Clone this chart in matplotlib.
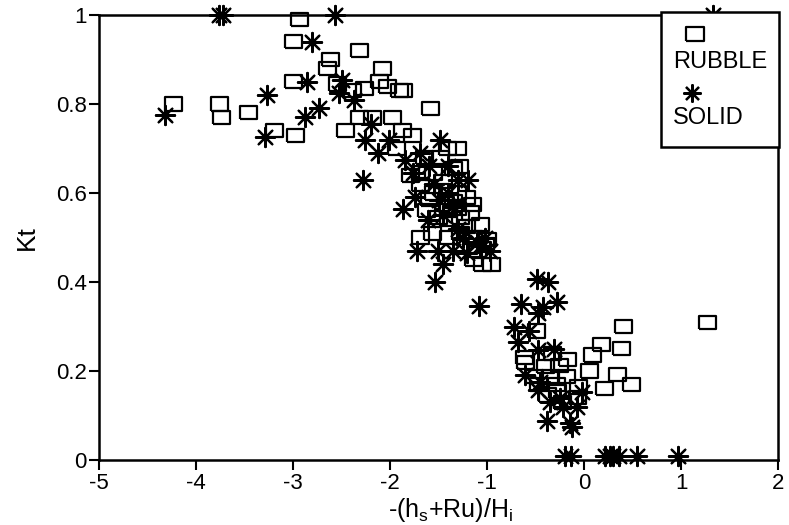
import matplotlib
matplotlib.use("Agg")
import matplotlib.pyplot as plt
from matplotlib.patches import Rectangle

plt.rcParams['font.family'] = ['Liberation Sans', 'DejaVu Sans']
plt.rcParams['mathtext.default'] = 'regular'
plt.rcParams['axes.unicode_minus'] = False

# rubble breakwater points
rubble_x = [-4.23, -3.76, -3.74, -3.46, -3.19, -2.97, -2.93, -3.00, -3.00, -2.61, -2.64,
            -2.54, -2.39, -2.26, -2.31, -2.08, -2.11, -2.03, -1.90, -1.86, -2.46, -2.31,
            -2.18, -1.97, -1.58, -1.87, -1.77, -1.93,
            -1.41, -1.48, -1.64, -1.30, -1.28, -1.35, -1.79, -1.69, -1.55, -1.69, -1.45,
            -1.59, -1.45, -1.30, -1.21, -1.15, -1.30, -1.40, -1.50, -1.40, -1.27, -1.17,
            -1.21, -1.07, -1.69, -1.56, -1.40, -1.27, -1.14, -1.00, -1.02, -1.05, -0.95,
            -1.14, -1.55, -1.62, -1.35, -1.10,
            -0.485, -0.61, -0.60, 0.41, 1.27, 0.18, 0.09, 0.39, 0.06, 0.35, 0.49, 0.21,
            -0.32, -0.17, -0.40, -0.25, -0.51, -0.35, -0.18, -0.47, -0.28, -0.06, -0.38,
            -0.27, -0.07, -0.22]
rubble_y = [0.80, 0.80, 0.77, 0.78, 0.74, 0.73, 0.99, 0.94, 0.85, 0.90, 0.88,
            0.845, 0.83, 0.835, 0.92, 0.88, 0.85, 0.84, 0.83, 0.83, 0.74, 0.77,
            0.77, 0.77, 0.79, 0.74, 0.73, 0.70,
            0.70, 0.68, 0.68, 0.70, 0.66, 0.655, 0.64, 0.645, 0.645, 0.62, 0.625,
            0.585, 0.605, 0.60, 0.59, 0.575, 0.565, 0.56, 0.545, 0.54, 0.545, 0.555,
            0.525, 0.53, 0.50, 0.51, 0.50, 0.51, 0.50, 0.495, 0.485, 0.44, 0.44,
            0.45, 0.60, 0.56, 0.58, 0.47,
            0.29, 0.23, 0.22, 0.30, 0.31, 0.26, 0.236, 0.25, 0.20, 0.193, 0.17, 0.16,
            0.24, 0.225, 0.21, 0.213, 0.187, 0.187, 0.187, 0.17, 0.17, 0.164, 0.146,
            0.153, 0.14, 0.13]

# solid breakwater points
solid_x = [-4.32, -3.76, -3.72, -2.57, 1.33, -2.80, -2.86, -2.49, -2.53, -2.37, -3.27,
           -2.73, -2.88, -3.29, -2.20, -2.26, -2.12, -2.01, -2.28,
           -1.48, -1.69, -1.85, -1.76, -1.20, -1.74, -1.87, -1.61, -1.72, -1.45,
           -1.54, -1.51, -1.35, -1.21, -1.07, -0.97, -1.55, -1.40, -1.45, -1.30,
           -1.25, -1.35, -1.60, -1.02, -1.10, -1.50, -1.30, -1.40,
           -0.485, -0.37, -1.08, -0.65, -0.42, -0.28, -0.47, -0.72, -0.57, -0.68,
           -0.47, -0.31, -0.61, -0.45, -0.47, -0.02, -0.22, -0.07, -0.38, -0.14,
           -0.12, -0.25, -0.35,
           -0.20, -0.13, 0.22, 0.27, 0.30, 0.36, 0.55, 0.97]
solid_y = [0.775, 1.0, 1.0, 1.0, 1.0, 0.94, 0.85, 0.855, 0.825, 0.81, 0.82,
           0.79, 0.77, 0.725, 0.755, 0.72, 0.69, 0.72, 0.63,
           0.72, 0.69, 0.675, 0.645, 0.63, 0.59, 0.565, 0.54, 0.47, 0.44,
           0.40, 0.47, 0.47, 0.465, 0.48, 0.47, 0.62, 0.60, 0.55, 0.52,
           0.50, 0.57, 0.66, 0.50, 0.49, 0.585, 0.63, 0.66,
           0.407, 0.40, 0.346, 0.35, 0.344, 0.355, 0.33, 0.30, 0.29, 0.265,
           0.247, 0.25, 0.19, 0.175, 0.157, 0.153, 0.12, 0.12, 0.088, 0.083,
           0.075, 0.14, 0.13,
           0.01, 0.01, 0.01, 0.01, 0.01, 0.01, 0.01, 0.01]

x_ticks = [-5, -4, -3, -2, -1, 0, 1, 2]
y_ticks = [0, 0.2, 0.4, 0.6, 0.8, 1]
y_ticklabels = ['0', '0.2', '0.4', '0.6', '0.8', '1']

# wide box used for rubble
box = [(-1.3, -1), (1.3, -1), (1.3, 1), (-1.3, 1), (-1.3, -1)]
star = (8, 2, 0)

fig = plt.figure(figsize=(7.89, 5.25), dpi=100)
ax = fig.add_axes([0.1255, 0.1238, 0.8606, 0.8476])

ax.scatter(rubble_x, rubble_y, marker=box, s=150, facecolors='none',
           edgecolors='black', linewidths=1.6, clip_on=False, zorder=3)
ax.scatter(solid_x, solid_y, marker=star, s=190, c='black',
           linewidths=1.6, clip_on=False, zorder=3)

ax.set_xlim(-5, 2)
ax.set_ylim(0, 1)
ax.set_xticks(x_ticks)
ax.set_yticks(y_ticks)
ax.set_yticklabels(y_ticklabels)
ax.tick_params(direction='out', length=7, width=1.5, labelsize=16, pad=2)
for s in ax.spines.values():
    s.set_linewidth(1.8)

ax.set_xlabel('-(h$_s$+Ru)/H$_i$', fontsize=18)
ax.xaxis.set_label_coords(0.518, -0.082)
ax.set_ylabel('Kt', fontsize=19, labelpad=12)

# legend box drawn by hand to keep the stacked layout
fig.patches.append(Rectangle((661 / 789, 1 - 147 / 525), 118 / 789, 135 / 525,
                             transform=fig.transFigure, facecolor='white',
                             edgecolor='black', linewidth=1.8, zorder=5))
fig.lines.append(plt.Line2D([695 / 789], [1 - 34 / 525], marker=box, markersize=13,
                            markerfacecolor='none', markeredgecolor='black',
                            markeredgewidth=1.6, transform=fig.transFigure, zorder=6))
fig.lines.append(plt.Line2D([692 / 789], [1 - 93 / 525], marker=star, markersize=13,
                            color='black', markeredgewidth=1.6,
                            transform=fig.transFigure, zorder=6))
fig.text(673 / 789, 1 - 62 / 525, 'RUBBLE', fontsize=17, va='center', ha='left', zorder=6)
fig.text(673 / 789, 1 - 118 / 525, 'SOLID', fontsize=17, va='center', ha='left', zorder=6)

fig.savefig('out.png', dpi=100)
